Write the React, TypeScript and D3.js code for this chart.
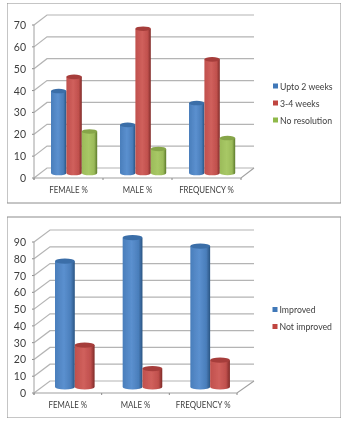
import React from "react";
import * as d3 from "d3";

const categories = ["FEMALE %", "MALE %", "FREQUENCY %"];
const topSeriesNames = ["Upto 2 weeks", "3-4 weeks", "No resolution"];
const topUpto2 = [37.5, 22, 32];
const topWeeks34 = [44, 66, 52];
const topNoRes = [19, 11, 16];
const topTicks = [0, 10, 20, 30, 40, 50, 60, 70];
const bottomSeriesNames = ["Improved", "Not improved"];
const bottomImproved = [75, 89, 84];
const bottomNot = [25, 11, 16];
const bottomTicks = [0, 10, 20, 30, 40, 50, 60, 70, 80, 90];

const palette = [
  { id: "b", dark: "#2a5583", mid: "#4a7ebb", light: "#5b90cf", top: "#3a6ea8", sw: "#3f78b8" },
  { id: "r", dark: "#7f2a28", mid: "#c0504d", light: "#d0605c", top: "#a63e3b", sw: "#c0443f" },
  { id: "g", dark: "#5d7a2c", mid: "#9bbb59", light: "#a8c866", top: "#86a548", sw: "#8fb94a" },
];
const FONT = "Lato, 'Open Sans', sans-serif";
const TXT = "#3d3d3d";

type CP = {
  box: number[]; x0: number; x1: number; y0: number; yTop: number; dx: number; dy: number;
  maxV: number; ticks: number[]; series: number[][]; names: string[];
  barBase: number; barLeft: number; barW: number; rx: number; ry: number;
  legendY: number[]; legendX: number; labelY: number; pre: string;
};

function Chart(p: CP) {
  const y = d3.scaleLinear().domain([0, p.maxV]).range([p.y0, p.yTop]);
  const x = d3.scaleBand<string>().domain(categories).range([p.x0, p.x1]);
  const barY = d3.scaleLinear().domain([0, p.maxV]).range([p.barBase, p.barBase - (p.y0 - p.yTop)]);
  const backR = p.x1 + p.dx + (p.pre === "a" ? 0 : 1);
  return (
    <g>
      <defs>
        {palette.map((c) => (
          <linearGradient key={c.id} id={p.pre + c.id} x1="0" x2="1" y1="0" y2="0">
            <stop offset="0" stopColor={c.mid} />
            <stop offset="0.45" stopColor={c.light} />
            <stop offset="0.8" stopColor={c.mid} />
            <stop offset="1" stopColor={c.dark} />
          </linearGradient>
        ))}
      </defs>
      <rect x={p.box[0]} y={p.box[1]} width={p.box[2] - p.box[0]} height={p.box[3] - p.box[1]} fill="#fff" stroke="#8c8c8c" strokeWidth={1} />
      {p.ticks.map((t) => (
        <g key={t}>
          <polyline
            points={`${p.x0},${y(t)} ${p.x0 + p.dx},${y(t) - p.dy} ${backR},${y(t) - p.dy}`}
            fill="none" stroke="#b4b4b4" strokeWidth={1.2}
          />
          <line x1={p.x0 - 2} x2={p.x0} y1={y(t)} y2={y(t)} stroke="#8a8a8a" />
          <text x={p.x0 - 8} y={y(t) + 4} textAnchor="end" fontSize={10.5} fill={TXT} fontFamily={FONT}>{t}</text>
        </g>
      ))}
      <line x1={p.x0} x2={p.x0} y1={p.yTop} y2={p.y0 + 2} stroke="#a0a0a0" />
      <polyline points={`${p.x0},${p.y0} ${p.x1},${p.y0} ${backR},${p.y0 - p.dy}`} fill="none" stroke="#a0a0a0" strokeWidth={1.1} />
      {[0, 1, 2, 3].map((i) => {
        const tx = p.x0 + (i * (p.x1 - p.x0)) / 3;
        return <line key={i} x1={tx} x2={tx} y1={p.y0} y2={p.y0 + 2} stroke="#8a8a8a" />;
      })}
      {categories.map((cat, ci) => (
        <g key={cat}>
          {p.series.map((vals, si) => {
            const c = palette[si];
            const bx = (x(cat) as number) + p.barLeft + si * p.barW;
            const top = barY(vals[ci]);
            const cx = bx + p.rx;
            return (
              <g key={si}>
                <path
                  d={`M${bx},${top} L${bx},${p.barBase} A${p.rx},${p.ry} 0 0 0 ${bx + 2 * p.rx},${p.barBase} L${bx + 2 * p.rx},${top} Z`}
                  fill={`url(#${p.pre}${c.id})`}
                />
                <ellipse cx={cx} cy={top} rx={p.rx} ry={p.ry} fill={c.top} />
              </g>
            );
          })}
          <text
            transform={`translate(${(x(cat) as number) + x.bandwidth() / 2},${p.labelY}) scale(0.84,1)`}
            textAnchor="middle" fontSize={9.4} fill={TXT} fontFamily={FONT}
          >{cat}</text>
        </g>
      ))}
      {p.names.map((n, i) => (
        <g key={n}>
          <rect x={p.legendX} y={p.legendY[i] - 2.5} width={5} height={5} fill={palette[i].sw} />
          <text
            transform={`translate(${p.legendX + 7},${p.legendY[i] + 3.5}) scale(0.88,1)`}
            fontSize={9.9} fill={TXT} fontFamily={FONT}
          >{n}</text>
        </g>
      ))}
    </g>
  );
}

export default function App() {
  return (
    <svg width={353} height={426} style={{ position: "fixed", left: 0, top: 0, background: "#fff" }}>
      <defs>
        <filter id="soft" x="0" y="0" width="100%" height="100%">
          <feGaussianBlur stdDeviation="0.3" />
        </filter>
      </defs>
      <g filter="url(#soft)">
        <Chart
          pre="a" box={[7, 3, 341, 203]} x0={34} x1={241} y0={178} yTop={25} dx={13} dy={10}
          maxV={70} ticks={topTicks} series={[topUpto2, topWeeks34, topNoRes]} names={topSeriesNames}
          barBase={173} barLeft={17} barW={15.4} rx={7.7} ry={2.3}
          legendY={[86, 103, 120]} legendX={273} labelY={193}
        />
        <Chart
          pre="b" box={[7, 217, 341, 418]} x0={34} x1={237} y0={393} yTop={242} dx={16} dy={12}
          maxV={90} ticks={bottomTicks} series={[bottomImproved, bottomNot]} names={bottomSeriesNames}
          barBase={387} barLeft={21} barW={19.8} rx={9.9} ry={2.6}
          legendY={[309.5, 326.5]} legendX={272.5} labelY={408}
        />
      </g>
    </svg>
  );
}
